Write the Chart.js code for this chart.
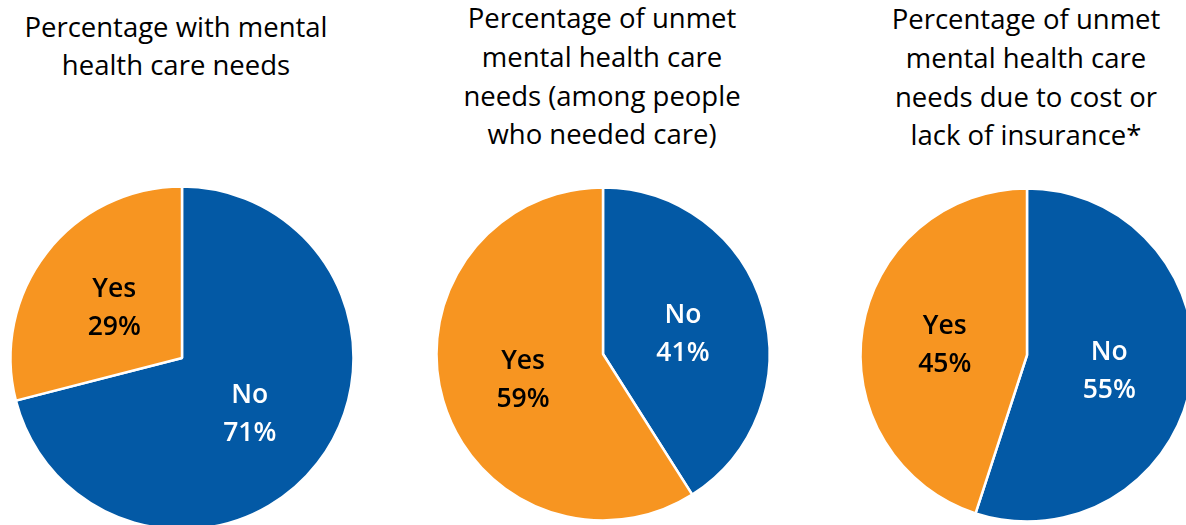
<!DOCTYPE html>
<html>
<head>
<meta charset="utf-8">
<script src="https://cdn.jsdelivr.net/npm/chart.js@4/dist/chart.umd.min.js"></script>
<style>
  html, body { margin: 0; padding: 0; overflow: hidden; background: #fff; }
  body { width: 1186px; height: 525px; position: relative; }
  .title {
    position: absolute; width: 360px; text-align: center;
    font-family: "Open Sans", sans-serif; font-size: 27.5px; line-height: 38.8px; color: #000;
  }
  canvas { position: absolute; }
</style>
</head>
<body>
<div class="title" id="t0" style="left:-4px; top:7.5px;"></div>
<div class="title" id="t1" style="left:422px; top:-1px;"></div>
<div class="title" id="t2" style="left:846px; top:0px;"></div>
<canvas id="c0" width="360" height="360" style="left:1.6px; top:178.2px;"></canvas>
<canvas id="c1" width="360" height="360" style="left:422.6px; top:174.3px;"></canvas>
<canvas id="c2" width="360" height="360" style="left:846.6px; top:174.8px;"></canvas>
<script>
// data
const categories = ['No', 'Yes'];
const withNeeds = [71, 29];
const unmetAmongNeeding = [41, 59];
const unmetCostInsurance = [55, 45];
const titleLines = [
  ['Percentage with mental', 'health care needs'],
  ['Percentage of unmet', 'mental health care', 'needs (among people', 'who needed care)'],
  ['Percentage of unmet', 'mental health care', 'needs due to cost or', 'lack of insurance*']
];

const BLUE = '#0359a5';
const ORANGE = '#f79521';

// two-line labels inside each slice
const sliceLabels = {
  id: 'sliceLabels',
  afterDatasetsDraw(chart) {
    const ctx = chart.ctx;
    const meta = chart.getDatasetMeta(0);
    const vals = chart.data.datasets[0].data;
    ctx.save();
    ctx.font = '600 26.5px "Open Sans", sans-serif';
    ctx.textAlign = 'center';
    ctx.textBaseline = 'alphabetic';
    meta.data.forEach(function(arc, i) {
      const p = arc.tooltipPosition();
      ctx.fillStyle = i === 0 ? '#ffffff' : '#000000';
      ctx.fillText(chart.data.labels[i], p.x, p.y - 8);
      ctx.fillText(vals[i] + '%', p.x, p.y + 30);
    });
    ctx.restore();
  }
};

function makePie(id, values, radius) {
  return new Chart(document.getElementById(id), {
    type: 'pie',
    data: {
      labels: categories,
      datasets: [{
        data: values,
        backgroundColor: [BLUE, ORANGE],
        borderColor: '#ffffff',
        borderWidth: 2.5
      }]
    },
    options: {
      responsive: false,
      animation: false,
      radius: radius,
      layout: { padding: 0 },
      plugins: {
        legend: { display: false },
        tooltip: { enabled: false }
      }
    },
    plugins: [sliceLabels]
  });
}

titleLines.forEach(function(lines, i) {
  document.getElementById('t' + i).innerHTML = lines.join('<br>');
});

makePie('c0', withNeeds, 171.5);
makePie('c1', unmetAmongNeeding, 166.5);
makePie('c2', unmetCostInsurance, 166.5);
</script>
</body>
</html>
